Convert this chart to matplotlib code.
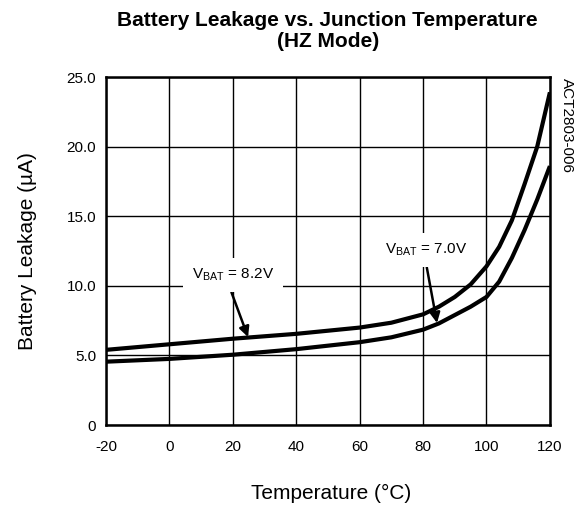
import matplotlib
matplotlib.use('Agg')
import matplotlib.pyplot as plt

plt.rcParams['font.family'] = ['Liberation Sans', 'DejaVu Sans']
plt.rcParams['mathtext.default'] = 'regular'
plt.rcParams['axes.unicode_minus'] = False

# values
temp_82 = [-20, 0, 20, 40, 60, 70, 80, 85, 90, 95, 100, 104, 108, 112, 116, 120]
leak_82 = [5.4, 5.8, 6.2, 6.55, 7.0, 7.35, 7.95, 8.5, 9.2, 10.1, 11.4, 12.8, 14.7, 17.3, 20.0, 23.9]

temp_70 = [-20, 0, 20, 40, 60, 70, 80, 85, 90, 95, 100, 104, 108, 112, 116, 120]
leak_70 = [4.55, 4.75, 5.05, 5.45, 5.95, 6.3, 6.85, 7.3, 7.9, 8.5, 9.2, 10.3, 12.0, 14.0, 16.2, 18.6]

x_ticks = [-20, 0, 20, 40, 60, 80, 100, 120]
y_ticks = [0, 5, 10, 15, 20, 25]
y_labels = ['0', '5.0', '10.0', '15.0', '20.0', '25.0']

fig = plt.figure(figsize=(5.78, 5.07), dpi=100)
ax = fig.add_axes([0.1834, 0.1617, 0.768, 0.6864])

ax.plot(temp_82, leak_82, color='black', lw=3.0, solid_capstyle='butt', zorder=3)
ax.plot(temp_70, leak_70, color='black', lw=3.0, solid_capstyle='butt', zorder=3)

ax.set_xlim(-20, 120)
ax.set_ylim(0, 25)
ax.set_xticks(x_ticks)
ax.set_yticks(y_ticks)
ax.set_yticklabels(y_labels)
ax.tick_params(length=0, labelsize=11)
ax.tick_params(axis='x', pad=11)
ax.tick_params(axis='y', pad=7)
ax.grid(True, color='black', lw=1)
ax.set_axisbelow(True)
for s in ax.spines.values():
    s.set_linewidth(1.8)

fig.text(0.573, 0.026, 'Temperature (°C)', fontsize=15, ha='center', va='center')
fig.text(0.047, 0.505, 'Battery Leakage (µA)', fontsize=15, rotation=90,
         ha='center', va='center')
fig.text(0.567, 0.978, 'Battery Leakage vs. Junction Temperature\n(HZ Mode)',
         fontsize=15, fontweight='bold', ha='center', va='top', linespacing=1.15)

bbox = dict(boxstyle='square,pad=0.6', fc='white', ec='none')
ax.annotate('V$_{BAT}$ = 8.2V', xy=(24.8, 6.32), xytext=(20.05, 10.78),
            ha='center', va='center', fontsize=11, bbox=bbox, zorder=4,
            arrowprops=dict(arrowstyle='-|>', color='black', lw=1.8,
                            mutation_scale=15, shrinkA=0, shrinkB=0,
                            relpos=(0.44, 0)))
ax.annotate('V$_{BAT}$ = 7.0V', xy=(84.4, 7.33), xytext=(80.9, 12.57),
            ha='center', va='center', fontsize=11, bbox=bbox, zorder=4,
            arrowprops=dict(arrowstyle='-|>', color='black', lw=1.8,
                            mutation_scale=15, shrinkA=0, shrinkB=0,
                            relpos=(0.49, 0)))

fig.text(0.969, 0.846, 'ACT2803-006', rotation=-90, fontsize=11, ha='left', va='top')

fig.savefig('out.png', dpi=100)
